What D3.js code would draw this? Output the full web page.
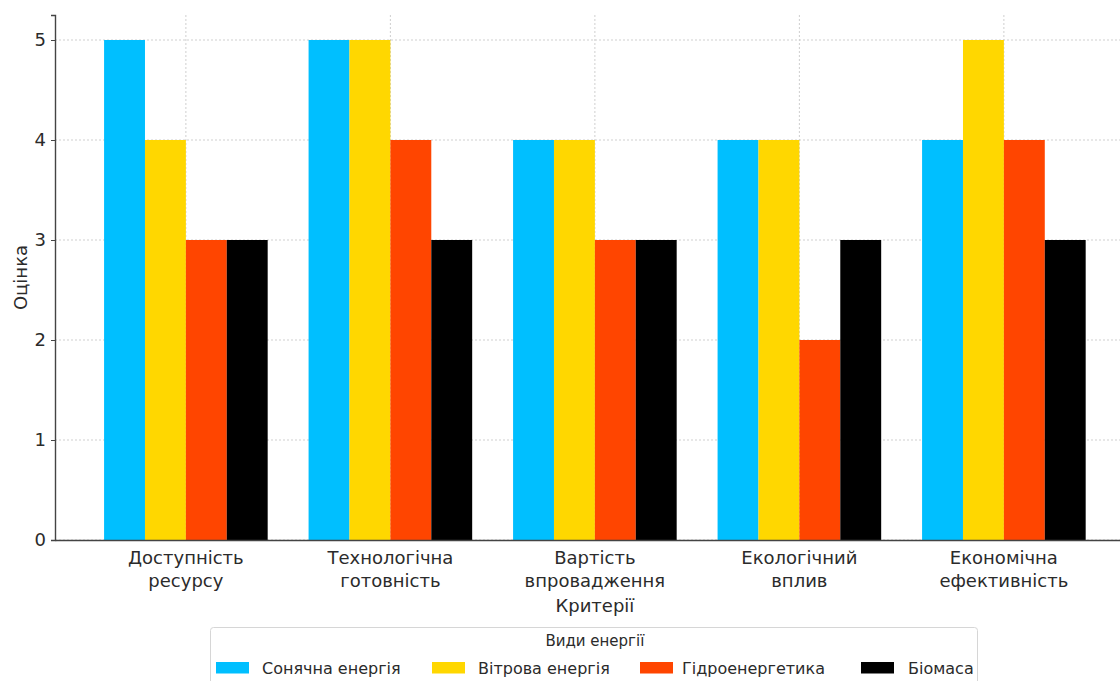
<!DOCTYPE html>
<html>
<head>
<meta charset="utf-8">
<script src="https://cdn.jsdelivr.net/npm/d3@7"></script>
<style>
  html, body { margin: 0; padding: 0; background: #fff; }
  svg { display: block; font-family: "DejaVu Sans", sans-serif; }
</style>
</head>
<body>
<svg id="chart" width="1120" height="681"></svg>
<script>
// Criteria (two-line labels) and energy types
const criteria = [
  ["Доступність", "ресурсу"],
  ["Технологічна", "готовність"],
  ["Вартість", "впровадження"],
  ["Екологічний", "вплив"],
  ["Економічна", "ефективність"]
];
const energyTypes = ["Сонячна енергія", "Вітрова енергія", "Гідроенергетика", "Біомаса"];
const energyColors = ["#00BFFF", "#FFD700", "#FF4500", "#000000"];

// Scores per energy type, one value per criterion
const solar = [5, 5, 4, 4, 4];
const wind  = [4, 5, 4, 4, 5];
const hydro = [3, 4, 3, 2, 4];
const biomass = [3, 3, 3, 3, 3];
const seriesValues = [solar, wind, hydro, biomass];

const yTicks = [0, 1, 2, 3, 4, 5];

const svg = d3.select("#chart");
const plotLeft = 55, plotTop = 15, plotBottom = 540;
const barW = 0.2;

// Category index axis with matplotlib-style margins
const x = d3.scaleLinear().domain([-0.64, 4.64]).range([plotLeft, plotLeft + 5.28 * 204.5]);
const y = d3.scaleLinear().domain([0, 5.25]).range([plotBottom, plotTop]);

const textColor = "#2b2b2b";
const gridColor = "#cfcfcf";

// Gridlines
const grid = svg.append("g");
yTicks.forEach(t => {
  grid.append("line")
    .attr("x1", plotLeft).attr("x2", 1120)
    .attr("y1", y(t)).attr("y2", y(t))
    .attr("stroke", gridColor).attr("stroke-width", 1)
    .attr("stroke-dasharray", "2,2");
});
criteria.forEach((c, i) => {
  grid.append("line")
    .attr("x1", x(i)).attr("x2", x(i))
    .attr("y1", plotTop).attr("y2", plotBottom)
    .attr("stroke", gridColor).attr("stroke-width", 1)
    .attr("stroke-dasharray", "2,2");
});

// Bars
seriesValues.forEach((vals, s) => {
  svg.append("g").selectAll("rect")
    .data(vals)
    .join("rect")
    .attr("x", (d, i) => x(i - 0.4 + s * barW))
    .attr("width", x(barW) - x(0))
    .attr("y", d => y(d))
    .attr("height", d => y(0) - y(d))
    .attr("fill", energyColors[s]);
});

// Y axis
const yAxis = d3.axisLeft(y).tickValues(yTicks).tickSize(4).tickPadding(5).tickFormat(d3.format("d"));
const gy = svg.append("g").attr("transform", `translate(${plotLeft},0)`).call(yAxis);
gy.select(".domain").attr("stroke", "#444").attr("stroke-width", 1.4);
gy.selectAll(".tick line").attr("stroke", "#444");
gy.selectAll(".tick text").attr("fill", textColor).attr("font-size", 18).attr("font-family", "DejaVu Sans");

// X axis baseline
const xAxis = d3.axisBottom(x).tickValues(d3.range(criteria.length)).tickSize(0).tickFormat(() => "");
const gx = svg.append("g").attr("transform", `translate(0,${plotBottom})`).call(xAxis);
gx.select(".domain").attr("stroke", "#444").attr("stroke-width", 1.4);

// Two-line category labels
criteria.forEach((lines, i) => {
  const t = svg.append("text")
    .attr("x", x(i)).attr("y", 564)
    .attr("text-anchor", "middle")
    .attr("fill", textColor).attr("font-size", 18);
  lines.forEach((ln, k) => {
    t.append("tspan").attr("x", x(i)).attr("dy", k === 0 ? 0 : 23).text(ln);
  });
});

// Axis titles
svg.append("text")
  .attr("x", x(2)).attr("y", 612)
  .attr("text-anchor", "middle")
  .attr("fill", textColor).attr("font-size", 18)
  .text("Критерії");

svg.append("text")
  .attr("transform", `translate(27,${(plotTop + plotBottom) / 2}) rotate(-90)`)
  .attr("text-anchor", "middle")
  .attr("fill", textColor).attr("font-size", 18)
  .text("Оцінка");

// Legend
const legend = svg.append("g");
legend.append("rect")
  .attr("x", 210.5).attr("y", 627.5)
  .attr("width", 767).attr("height", 70)
  .attr("rx", 3)
  .attr("fill", "#fff").attr("stroke", "#d6d6d6");
legend.append("text")
  .attr("x", x(2)).attr("y", 646)
  .attr("text-anchor", "middle")
  .attr("fill", textColor).attr("font-size", 15)
  .text("Види енергії");

const swatchX = [216, 432, 640, 861];
const labelX = [262, 478, 682, 908];
energyTypes.forEach((name, i) => {
  legend.append("rect")
    .attr("x", swatchX[i]).attr("y", 662)
    .attr("width", 33).attr("height", 11.5)
    .attr("fill", energyColors[i]);
  legend.append("text")
    .attr("x", labelX[i]).attr("y", 674)
    .attr("fill", textColor).attr("font-size", 16)
    .text(name);
});
</script>
</body>
</html>
